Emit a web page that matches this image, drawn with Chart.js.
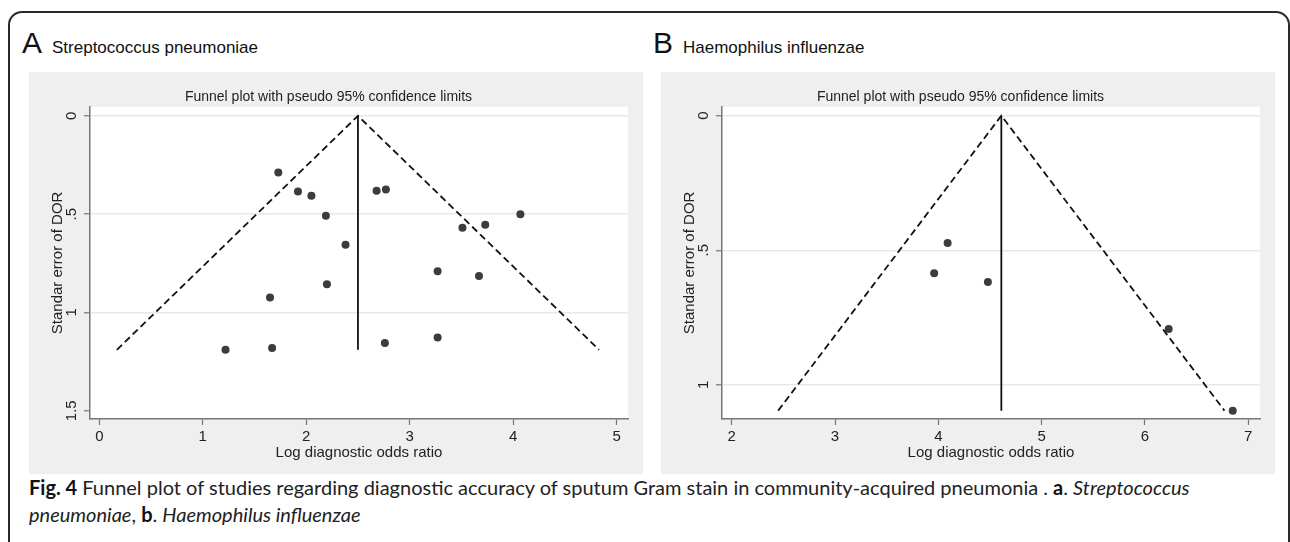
<!DOCTYPE html>
<html>
<head>
<meta charset="utf-8">
<script src="https://cdn.jsdelivr.net/npm/chart.js@4.4.1/dist/chart.umd.min.js"></script>
<style>
  body { margin: 0; width: 1290px; height: 542px; overflow: hidden; background: #fff; font-family: Arial, "Liberation Sans", sans-serif; position: relative; }
  #frame { position: absolute; left: 8px; top: 11px; width: 1278px; height: 600px; border: 2px solid #2a2a2a; border-radius: 14px; }
  .hdr { position: absolute; top: 28px; display: flex; align-items: baseline; color: #111; }
  .hdr .big { font-size: 30px; line-height: 30px; }
  .hdr .sp { font-size: 17px; line-height: 17px; margin-left: 10px; }
  .panel { position: absolute; top: 72px; width: 614px; height: 402px; background: #efefef; }
  #caption { position: absolute; left: 29px; top: 474px; font-family: Lato, "Noto Sans", sans-serif; font-size: 20px; line-height: 27px; color: #222; white-space: nowrap; }
  #caption b { font-weight: bold; color: #111; }
</style>
</head>
<body>
<div id="frame"></div>
<div class="hdr" style="left:22px"><span class="big">A</span><span class="sp">Streptococcus pneumoniae</span></div>
<div class="hdr" style="left:653px"><span class="big">B</span><span class="sp">Haemophilus influenzae</span></div>
<div class="panel" style="left:29px"><canvas id="chartA" width="614" height="402"></canvas></div>
<div class="panel" style="left:661px"><canvas id="chartB" width="614" height="402"></canvas></div>
<div id="caption"><b>Fig. 4</b> Funnel plot of studies regarding diagnostic accuracy of sputum Gram stain in community-acquired pneumonia . <b>a</b>. <i>Streptococcus</i><br><i>pneumoniae</i>, <b>b</b>. <i>Haemophilus influenzae</i></div>
<script>
// panel A - Streptococcus pneumoniae (log DOR, SE)
var xA = [1.73, 1.92, 2.05, 2.19, 2.38, 2.20, 1.65, 2.68, 2.77, 3.51, 3.73, 4.07, 3.27, 3.67, 1.22, 1.67, 2.76, 3.27];
var yA = [0.288, 0.385, 0.407, 0.508, 0.656, 0.856, 0.924, 0.381, 0.375, 0.569, 0.554, 0.500, 0.791, 0.815, 1.19, 1.181, 1.156, 1.127];
var limXA = [0.17, 2.5, 4.83];
var limYA = [1.19, 0, 1.19];
var midXA = [2.5, 2.5];
var midYA = [0, 1.19];
var xTicksA = [0, 1, 2, 3, 4, 5];
var yTicksA = [0, 0.5, 1, 1.5];
var yLabelsA = ['0', '.5', '1', '1.5'];

// panel B - Haemophilus influenzae
var xB = [4.09, 3.96, 4.48, 6.23, 6.85];
var yB = [0.473, 0.585, 0.618, 0.793, 1.096];
var limXB = [2.45, 4.61, 6.77];
var limYB = [1.096, 0, 1.096];
var midXB = [4.61, 4.61];
var midYB = [0, 1.096];
var xTicksB = [2, 3, 4, 5, 6, 7];
var yTicksB = [0, 0.5, 1];
var yLabelsB = ['0', '.5', '1'];

var FONT = 'Arial, "Liberation Sans", sans-serif';

function pts(xs, ys) {
    var out = [];
    for (var i = 0; i < xs.length; i++) out.push({x: xs[i], y: ys[i]});
    return out;
}

// white plot region on the grey panel
var plotBg = {
    id: 'plotBg',
    beforeDraw: function (chart) {
        var a = chart.chartArea, ctx = chart.ctx;
        ctx.save();
        ctx.fillStyle = '#ffffff';
        ctx.fillRect(a.left, a.top, a.right - a.left, a.bottom - a.top);
        ctx.restore();
    }
};

// stata style rotated y tick labels
var rotY = {
    id: 'rotY',
    afterDraw: function (chart, args, opts) {
        var sc = chart.scales.y, ctx = chart.ctx;
        ctx.save();
        ctx.font = '15px ' + FONT;
        ctx.fillStyle = '#222';
        ctx.textAlign = 'center';
        ctx.textBaseline = 'middle';
        sc.ticks.forEach(function (t, i) {
            ctx.save();
            ctx.translate(sc.right - 18, sc.getPixelForValue(t.value));
            ctx.rotate(-Math.PI / 2);
            ctx.fillText(opts.labels[i], 0, 0);
            ctx.restore();
        });
        ctx.restore();
    }
};

function funnel(id, c) {
    return new Chart(document.getElementById(id), {
        type: 'scatter',
        data: {
            datasets: [{
                data: pts(c.limX, c.limY), showLine: true, pointRadius: 0,
                borderColor: '#111', borderWidth: 1.8, borderDash: [7, 4], fill: false
            }, {
                data: pts(c.midX, c.midY), showLine: true, pointRadius: 0,
                borderColor: '#111', borderWidth: 1.8, fill: false
            }, {
                data: pts(c.x, c.y), pointRadius: 4, pointBorderWidth: 0,
                backgroundColor: '#3c3c3c', borderColor: '#3c3c3c'
            }]
        },
        options: {
            responsive: false,
            animation: false,
            layout: { padding: { left: 0, right: 15, top: 0, bottom: 0 } },
            plugins: {
                legend: { display: false },
                tooltip: { enabled: false },
                title: {
                    display: true, text: 'Funnel plot with pseudo 95% confidence limits',
                    color: '#222', font: { family: FONT, size: 14, weight: 'normal' },
                    padding: { top: 17, bottom: 1 }
                },
                rotY: { labels: c.yLabels }
            },
            scales: {
                x: {
                    type: 'linear', min: c.xMin, max: c.xMax,
                    afterBuildTicks: function (s) { s.ticks = c.xTicks.map(function (v) { return {value: v}; }); },
                    afterFit: function (s) { s.height = 55; },
                    grid: { drawOnChartArea: false, tickLength: 6, tickColor: '#777', tickWidth: 1.2 },
                    border: { color: '#777', width: 1.5 },
                    ticks: { color: '#222', padding: 3, font: { family: FONT, size: 15 }, maxRotation: 0 },
                    title: {
                        display: true, text: 'Log diagnostic odds ratio', color: '#222',
                        font: { family: FONT, size: 15 }, padding: { top: 0, bottom: 12 }
                    }
                },
                y: {
                    type: 'linear', reverse: true, min: c.yMin, max: c.yMax,
                    afterBuildTicks: function (s) { s.ticks = c.yTicks.map(function (v) { return {value: v}; }); },
                    afterFit: function (s) { s.width = 61; },
                    grid: {
                        tickLength: 6, tickColor: '#777', tickWidth: 1.2, lineWidth: 1.5,
                        color: function (ctx) { return (ctx.tick && c.noGrid.indexOf(ctx.tick.value) >= 0) ? 'rgba(0,0,0,0)' : '#e8e8e8'; }
                    },
                    border: { color: '#777', width: 1.5 },
                    ticks: { display: false },
                    title: {
                        display: true, text: 'Standar error of DOR', color: '#222',
                        font: { family: FONT, size: 15 }, padding: { top: 20, bottom: 0 }
                    }
                }
            }
        },
        plugins: [plotBg, rotY]
    });
}

funnel('chartA', {
    x: xA, y: yA, limX: limXA, limY: limYA, midX: midXA, midY: midYA,
    xTicks: xTicksA, yTicks: yTicksA, yLabels: yLabelsA, noGrid: [1.5],
    xMin: -0.09, xMax: 5.11, yMin: -0.046, yMax: 1.542
});
funnel('chartB', {
    x: xB, y: yB, limX: limXB, limY: limYB, midX: midXB, midY: midYB,
    xTicks: xTicksB, yTicks: yTicksB, yLabels: yLabelsB, noGrid: [],
    xMin: 1.906, xMax: 7.114, yMin: -0.033, yMax: 1.127
});
</script>
</body>
</html>
